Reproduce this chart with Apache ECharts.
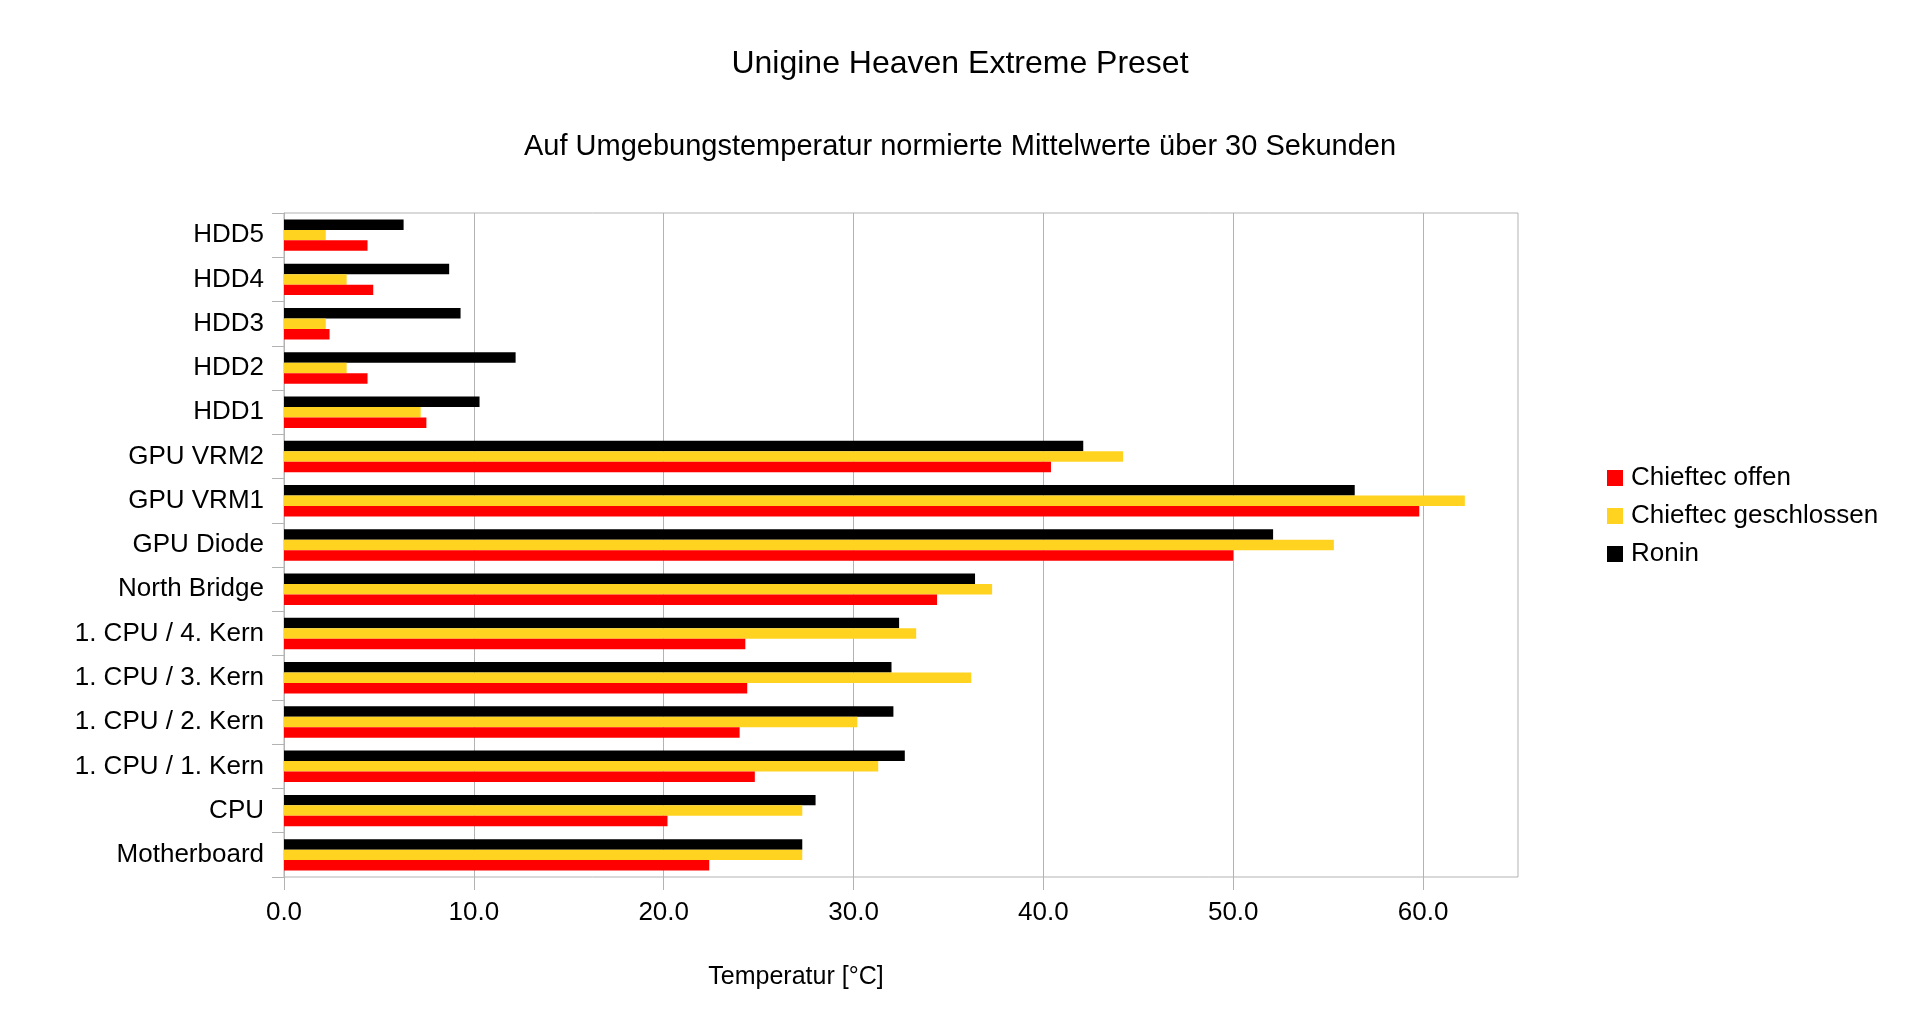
<!DOCTYPE html>
<html lang="de">

<head>
    <meta charset="UTF-8">
    <title>Unigine Heaven Extreme Preset</title>
    <style>
        html, body { margin: 0; padding: 0; background: #fff; }
        #main { width: 1920px; height: 1034px; }
    </style>
</head>

<body>
    <div id="main"></div>
    <script src="https://cdn.jsdelivr.net/npm/echarts@6/dist/echarts.min.js"></script>
    <script>
    // categories, bottom to top
    var categories = ['Motherboard', 'CPU', '1. CPU / 1. Kern', '1. CPU / 2. Kern', '1. CPU / 3. Kern',
        '1. CPU / 4. Kern', 'North Bridge', 'GPU Diode', 'GPU VRM1', 'GPU VRM2',
        'HDD1', 'HDD2', 'HDD3', 'HDD4', 'HDD5'];

    var chieftecOffen = [22.4, 20.2, 24.8, 24.0, 24.4, 24.3, 34.4, 50.0, 59.8, 40.4, 7.5, 4.4, 2.4, 4.7, 4.4];
    var chieftecGeschlossen = [27.3, 27.3, 31.3, 30.2, 36.2, 33.3, 37.3, 55.3, 62.2, 44.2, 7.2, 3.3, 2.2, 3.3, 2.2];
    var ronin = [27.3, 28.0, 32.7, 32.1, 32.0, 32.4, 36.4, 52.1, 56.4, 42.1, 10.3, 12.2, 9.3, 8.7, 6.3];

    var seriesNames = ['Chieftec offen', 'Chieftec geschlossen', 'Ronin'];
    var xTicks = [0, 10, 20, 30, 40, 50, 60];

    var font = "'Liberation Sans', Arial, sans-serif";
    var grey = '#b3b3b3';

    var myChart = echarts.init(document.getElementById('main'));

    // series listed top bar first (Ronin on top, Chieftec offen at the bottom of each group)
    function bar(name, data, color) {
        return {
            name: name,
            type: 'bar',
            data: data,
            itemStyle: { color: color },
            barGap: '0%',
            barCategoryGap: '29%'
        };
    }

    var option = {
        backgroundColor: '#fff',
        textStyle: { fontFamily: font, color: '#000' },
        title: [{
            text: 'Unigine Heaven Extreme Preset',
            left: 'center',
            top: 43,
            textStyle: { fontFamily: font, fontSize: 32, fontWeight: 'normal', color: '#000' }
        }, {
            text: 'Auf Umgebungstemperatur normierte Mittelwerte über 30 Sekunden',
            left: 'center',
            top: 127,
            textStyle: { fontFamily: font, fontSize: 29, fontWeight: 'normal', color: '#000' }
        }],
        graphic: [{
            type: 'text',
            x: 796,
            y: 977,
            style: {
                text: 'Temperatur [°C]',
                font: '25px ' + font,
                fill: '#000',
                textAlign: 'center',
                textVerticalAlign: 'middle'
            }
        }],
        legend: {
            orient: 'vertical',
            left: 1602,
            top: 460,
            data: seriesNames,
            icon: 'rect',
            itemWidth: 16,
            itemHeight: 16,
            itemGap: 12,
            textStyle: { fontFamily: font, fontSize: 26, color: '#000', lineHeight: 26, padding: [0, 0, 0, 3] }
        },
        grid: {
            left: 284,
            right: 402,
            top: 213,
            bottom: 157,
            show: true,
            borderColor: grey,
            borderWidth: 1
        },
        xAxis: {
            type: 'value',
            min: 0,
            max: 65,
            interval: 10,
            axisLine: { show: false },
            axisTick: { show: true, length: 13, customValues: xTicks, lineStyle: { color: grey } },
            axisLabel: {
                margin: 23,
                fontSize: 26,
                color: '#000',
                fontFamily: font,
                customValues: xTicks,
                formatter: function (v) { return v.toFixed(1); }
            },
            splitLine: { show: true, lineStyle: { color: grey } }
        },
        yAxis: {
            type: 'category',
            data: categories,
            axisLine: { show: true, lineStyle: { color: grey } },
            axisTick: { show: true, length: 12, lineStyle: { color: grey } },
            axisLabel: { margin: 20, fontSize: 26, color: '#000', fontFamily: font },
            splitLine: { show: false }
        },
        series: [
            bar(seriesNames[2], ronin, '#000000'),
            bar(seriesNames[1], chieftecGeschlossen, '#ffd320'),
            bar(seriesNames[0], chieftecOffen, '#ff0000')
        ],
        animation: false
    };

    myChart.setOption(option);
    </script>
</body>

</html>
